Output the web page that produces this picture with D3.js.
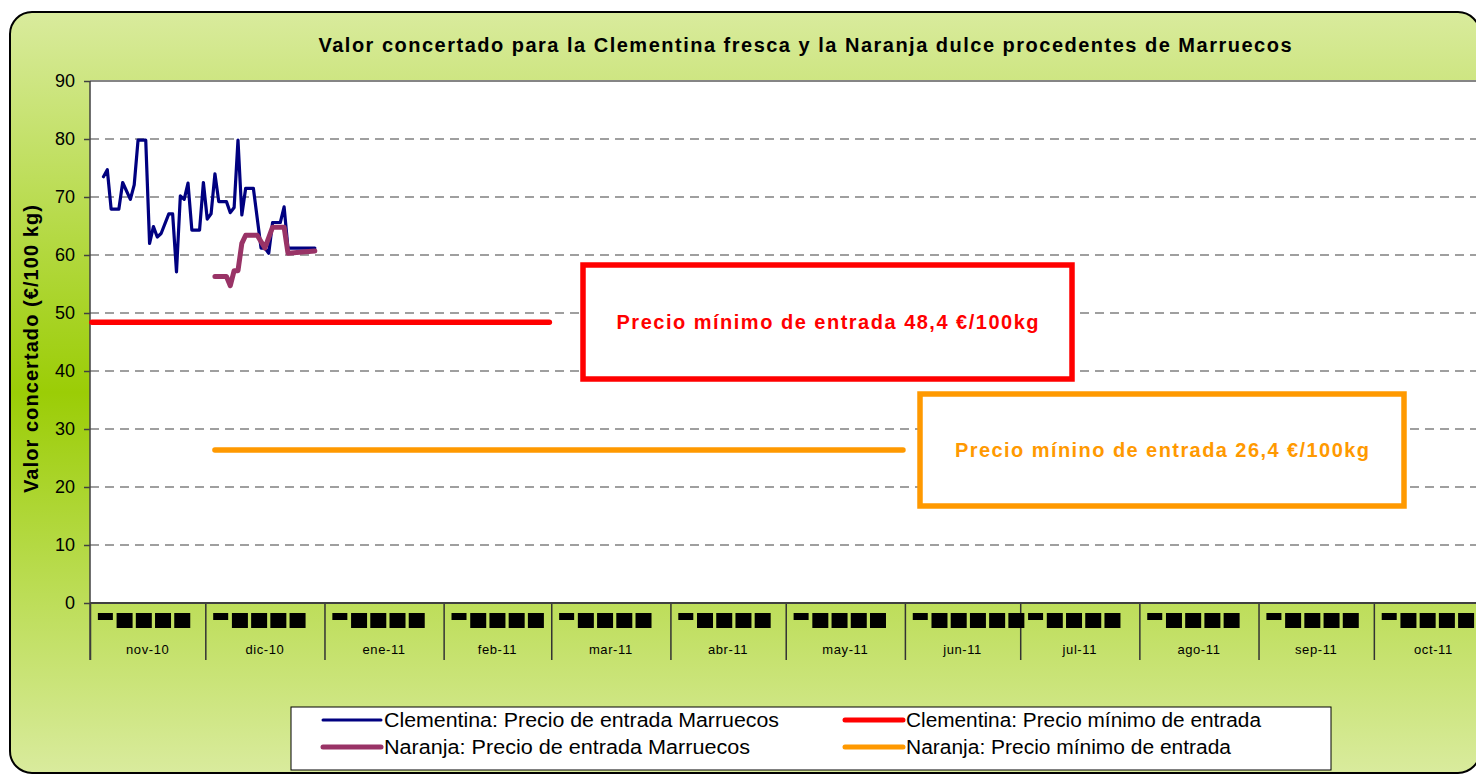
<!DOCTYPE html>
<head>
  <meta charset="utf-8">
  <script src="https://d3js.org/d3.v7.min.js"></script>
  <style>
    body { margin:0; background:#fff; }
    text { font-family: "Liberation Sans", Arial, sans-serif; }
  </style>
</head>
<body>
<script>

  // ---- data ----
  var clemDates = ["2010-11-04","2010-11-05","2010-11-06","2010-11-08","2010-11-09","2010-11-11",
    "2010-11-12","2010-11-13","2010-11-15","2010-11-16","2010-11-17","2010-11-18","2010-11-19",
    "2010-11-21","2010-11-22","2010-11-23","2010-11-24","2010-11-25","2010-11-26","2010-11-27",
    "2010-11-29","2010-11-30","2010-12-01","2010-12-02","2010-12-03","2010-12-04","2010-12-06",
    "2010-12-07","2010-12-08","2010-12-09","2010-12-10","2010-12-11","2010-12-13","2010-12-15",
    "2010-12-16","2010-12-17","2010-12-18","2010-12-20","2010-12-21","2010-12-22","2010-12-29"];
  var clemValues = [73.5,74.7,67.9,67.9,72.5,69.6,
    72.1,79.8,79.8,62.0,64.9,63.1,63.7,
    67.1,67.1,57.1,70.2,69.6,72.4,64.3,
    64.3,72.5,66.2,67.1,74.0,69.2,69.2,
    67.3,68.2,79.8,66.9,71.5,71.5,61.2,
    61.2,60.3,65.6,65.6,68.3,61.2,61.2];

  var naranjaDates = ["2010-12-03","2010-12-06","2010-12-07","2010-12-08","2010-12-09","2010-12-10",
    "2010-12-11","2010-12-14","2010-12-16","2010-12-18","2010-12-21","2010-12-22","2010-12-29"];
  var naranjaValues = [56.3,56.3,54.7,57.3,57.3,62.0,
    63.4,63.4,61.2,64.8,64.8,60.3,60.7];

  var clemMinDates = ["2010-11-01","2011-02-28"];
  var clemMinValue = 48.4;
  var naranjaMinDates = ["2010-12-03","2011-05-31"];
  var naranjaMinValue = 26.4;

  var monthLabels = ["nov-10","dic-10","ene-11","feb-11","mar-11","abr-11",
    "may-11","jun-11","jul-11","ago-11","sep-11","oct-11"];
  var yTicks = [0,10,20,30,40,50,60,70,80,90];
  // day-of-month labels that the original rendered as black boxes
  var dayTicks = [5,10,15,20,25];
  var extraDayTicks = ["2011-06-30"];

  var titleText = "Valor concertado para la Clementina fresca y la Naranja dulce procedentes de Marruecos";
  var yTitle = "Valor concertado (€/100 kg)";
  var clemNote = "Precio mínimo de entrada 48,4 €/100kg";
  var naranjaNote = "Precio mínino de entrada 26,4 €/100kg";
  var legendNames = ["Clementina: Precio de entrada Marruecos", "Clementina: Precio mínimo de entrada",
    "Naranja: Precio de entrada Marruecos", "Naranja: Precio mínimo de entrada"];

  // ---- layout ----
  var width = 1476, height = 776;
  var plotLeft = 90, plotTop = 81, plotBottom = 603, plotRight = 1493;

  var parseDate = d3.utcParse("%Y-%m-%d");
  function noon(s) { return d3.utcHour.offset(parseDate(s), 12); }

  var xScale = d3.scaleUtc()
    .domain([parseDate("2010-11-01"), parseDate("2011-11-01")])
    .range([plotLeft, plotRight]);
  var yScale = d3.scaleLinear()
    .domain([0, 90])
    .range([plotBottom, plotTop]);

  var svg = d3.select("body").append("svg")
    .attr("width", width)
    .attr("height", height);

  // background gradient of the chart area
  var grad = svg.append("defs").append("linearGradient")
    .attr("id", "bg").attr("x1", 0).attr("y1", 0).attr("x2", 0).attr("y2", 1);
  grad.append("stop").attr("offset", "0%").attr("stop-color", "#d9eb9d");
  grad.append("stop").attr("offset", "50%").attr("stop-color", "#9bcd06");
  grad.append("stop").attr("offset", "100%").attr("stop-color", "#d9eb9d");

  svg.append("rect")
    .attr("x", 10).attr("y", 12)
    .attr("width", 1470).attr("height", 761)
    .attr("rx", 22)
    .attr("fill", "url(#bg)")
    .attr("stroke", "#000")
    .attr("stroke-width", 2);

  // plot area
  svg.append("rect")
    .attr("x", plotLeft).attr("y", plotTop)
    .attr("width", plotRight - plotLeft).attr("height", plotBottom - plotTop)
    .attr("fill", "#fff");
  svg.append("line")
    .attr("x1", plotLeft).attr("x2", plotRight)
    .attr("y1", plotTop).attr("y2", plotTop)
    .attr("stroke", "#858585").attr("stroke-width", 2);

  // dashed grid lines
  svg.append("g").selectAll("line")
    .data(yTicks.filter(function(t) { return t > 0 && t < 90; }))
    .enter().append("line")
    .attr("x1", plotLeft).attr("x2", plotRight)
    .attr("y1", function(d) { return yScale(d); })
    .attr("y2", function(d) { return yScale(d); })
    .attr("stroke", "#808080")
    .attr("stroke-width", 1.5)
    .attr("stroke-dasharray", "9,6");

  // y axis
  var yAxisG = svg.append("g")
    .attr("transform", "translate(" + plotLeft + ",0)")
    .call(d3.axisLeft(yScale).tickValues(yTicks).tickSize(6).tickPadding(9));
  yAxisG.select(".domain").remove();
  yAxisG.selectAll("line").attr("stroke", "#404040").attr("stroke-width", 1.5);
  yAxisG.selectAll("text")
    .attr("font-family", "'Liberation Sans', Arial, sans-serif")
    .attr("font-size", 18).attr("fill", "#000");

  // x axis: month boundaries
  var monthStarts = d3.utcMonth.range(xScale.domain()[0], d3.utcDay.offset(xScale.domain()[1], 1));
  var xAxisG = svg.append("g")
    .attr("transform", "translate(0," + plotBottom + ")")
    .call(d3.axisBottom(xScale).tickValues(monthStarts).tickSize(57).tickFormat(""));
  xAxisG.select(".domain").remove();
  xAxisG.selectAll("line").attr("stroke", "#333").attr("stroke-width", 1.5);

  svg.append("line")
    .attr("x1", plotLeft).attr("x2", plotRight)
    .attr("y1", plotBottom).attr("y2", plotBottom)
    .attr("stroke", "#404040").attr("stroke-width", 2);
  svg.append("line")
    .attr("x1", plotLeft).attr("x2", plotLeft)
    .attr("y1", plotTop).attr("y2", 660)
    .attr("stroke", "#404040").attr("stroke-width", 1.5);

  // month names, centred in each month
  svg.append("g").selectAll("text")
    .data(monthLabels)
    .enter().append("text")
    .attr("x", function(d, i) {
      return (xScale(monthStarts[i]) + xScale(monthStarts[i + 1])) / 2;
    })
    .attr("y", 654)
    .attr("text-anchor", "middle")
    .attr("font-size", 13)
    .attr("letter-spacing", 0.6)
    .text(function(d) { return d; });

  // day labels (unrenderable in the original, shown as black boxes)
  var dayLabelDates = [];
  monthLabels.forEach(function(m, i) {
    dayTicks.forEach(function(day) {
      dayLabelDates.push(d3.utcDay.offset(monthStarts[i], day - 1));
    });
  });
  extraDayTicks.forEach(function(s) { dayLabelDates.push(parseDate(s)); });

  svg.append("g").selectAll("rect")
    .data(dayLabelDates)
    .enter().append("rect")
    .attr("x", function(d) {
      return xScale(d) - (d.getUTCDate() < 10 ? 7.5 : 8);
    })
    .attr("y", 613)
    .attr("width", function(d) { return d.getUTCDate() < 10 ? 15 : 16; })
    .attr("height", function(d) { return d.getUTCDate() < 10 ? 7 : 15; })
    .attr("fill", "#000");

  // ---- series ----
  var clemData = clemDates.map(function(d, i) { return {date: d, value: clemValues[i]}; });
  var naranjaData = naranjaDates.map(function(d, i) { return {date: d, value: naranjaValues[i]}; });
  var clemMinData = clemMinDates.map(function(d) { return {date: d, value: clemMinValue}; });
  var naranjaMinData = naranjaMinDates.map(function(d) { return {date: d, value: naranjaMinValue}; });

  var line = d3.line()
    .x(function(d) { return xScale(noon(d.date)); })
    .y(function(d) { return yScale(d.value); });

  var series = [
    {data: clemMinData, color: "#ff0000", w: 5.5},
    {data: naranjaMinData, color: "#ff9900", w: 5.5},
    {data: clemData, color: "#000080", w: 3.2},
    {data: naranjaData, color: "#993366", w: 5}
  ];
  series.forEach(function(s) {
    svg.append("path")
      .datum(s.data)
      .attr("d", line)
      .attr("fill", "none")
      .attr("stroke", s.color)
      .attr("stroke-width", s.w)
      .attr("stroke-linejoin", "round")
      .attr("stroke-linecap", "round");
  });

  // ---- annotation boxes ----
  function noteBox(x, y, w, h, color, txt, len) {
    svg.append("rect")
      .attr("x", x).attr("y", y).attr("width", w).attr("height", h)
      .attr("fill", "#fff")
      .attr("stroke", color)
      .attr("stroke-width", 5.5);
    svg.append("text")
      .attr("x", x + w / 2)
      .attr("y", y + h / 2 + 7)
      .attr("text-anchor", "middle")
      .attr("font-size", 20)
      .attr("font-weight", "bold")
      .attr("fill", color)
      .attr("textLength", len)
      .attr("lengthAdjust", "spacing")
      .text(txt);
  }
  noteBox(583, 265, 489, 114, "#ff0000", clemNote, 422);
  noteBox(920, 394, 484, 112, "#ff9900", naranjaNote, 414);

  // ---- titles ----
  svg.append("text")
    .attr("x", 805)
    .attr("y", 52)
    .attr("text-anchor", "middle")
    .attr("font-size", 20)
    .attr("font-weight", "bold")
    .attr("textLength", 973)
    .attr("lengthAdjust", "spacing")
    .text(titleText);

  svg.append("text")
    .attr("transform", "translate(38,349) rotate(-90)")
    .attr("text-anchor", "middle")
    .attr("font-size", 20)
    .attr("font-weight", "bold")
    .attr("textLength", 288)
    .attr("lengthAdjust", "spacing")
    .text(yTitle);

  // ---- legend ----
  svg.append("rect")
    .attr("x", 291).attr("y", 707)
    .attr("width", 1040).attr("height", 63)
    .attr("fill", "#fff")
    .attr("stroke", "#000")
    .attr("stroke-width", 1);

  var legendItems = [
    {name: legendNames[0], color: "#000080", w: 3, x: 323, y: 720, len: 395},
    {name: legendNames[1], color: "#ff0000", w: 5, x: 845, y: 720, len: 355},
    {name: legendNames[2], color: "#993366", w: 5, x: 323, y: 747, len: 366},
    {name: legendNames[3], color: "#ff9900", w: 5, x: 845, y: 747, len: 325}
  ];
  var lg = svg.append("g").selectAll("g")
    .data(legendItems)
    .enter().append("g")
    .attr("transform", function(d) { return "translate(" + d.x + "," + d.y + ")"; });
  lg.append("line")
    .attr("x1", 0).attr("x2", 58)
    .attr("stroke", function(d) { return d.color; })
    .attr("stroke-width", function(d) { return d.w; })
    .attr("stroke-linecap", "round");
  lg.append("text")
    .attr("x", 61)
    .attr("y", 7)
    .attr("font-size", 20)
    .attr("textLength", function(d) { return d.len; })
    .attr("lengthAdjust", "spacingAndGlyphs")
    .text(function(d) { return d.name; });

</script>
</body>
